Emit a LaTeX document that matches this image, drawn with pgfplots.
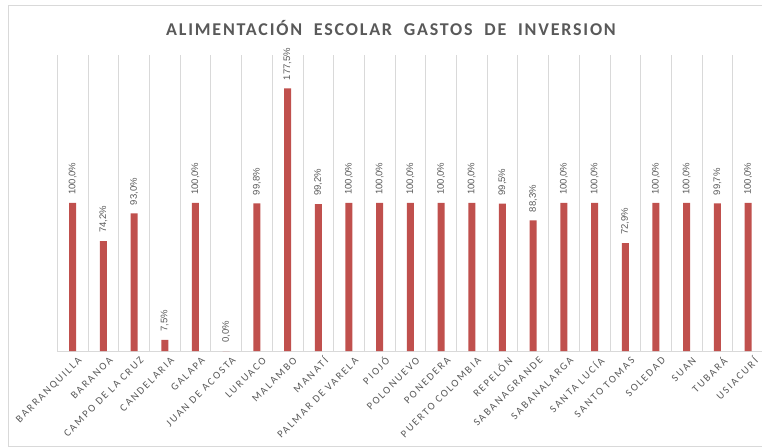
\documentclass[border=0pt]{standalone}
\usepackage{pgfplots}
\pgfplotsset{compat=1.18}
\usepackage{fontspec}
\setmainfont{Liberation Sans}
\newfontfamily\catfont[LetterSpace=18]{Carlito}
\newfontfamily\titlefont[LetterSpace=10]{Carlito}
\definecolor{barred}{HTML}{C0504D}
\definecolor{txtgray}{HTML}{595959}
\definecolor{gridgray}{HTML}{D9D9D9}
\begin{document}
\begin{tikzpicture}
\useasboundingbox (-57.3bp,-97bp) rectangle (704.7bp,351bp);
\draw[gridgray] (-49.3bp,-95bp) rectangle (712bp,346bp);
\begin{axis}[
  at={(0,0)}, anchor=south west,
  scale only axis,
  width=706.1bp, height=296bp,
  xmin=-0.5, xmax=22.5, ymin=0, ymax=200,
  axis y line=none,
  axis x line=bottom,
  axis line style={gridgray, -},
  x axis line style={-},
  xtick={0,...,22},
  major tick length=0pt,
  minor xtick={-0.5,0.5,...,22.5},
  minor tick length=0pt,
  xminorgrids=true,
  minor grid style={gridgray, line width=0.8pt},
  xticklabels={BARRANQUILLA,BARANOA,CAMPO DE LA CRUZ,CANDELARIA,GALAPA,JUAN DE ACOSTA,LURUACO,MALAMBO,MANATÍ,PALMAR DE VARELA,PIOJÓ,POLONUEVO,PONEDERA,PUERTO COLOMBIA,REPELÓN,SABANAGRANDE,SABANALARGA,SANTA LUCÍA,SANTO TOMAS,SOLEDAD,SUAN,TUBARÁ,USIACURÍ},
  xticklabel style={rotate=45, anchor=east, font=\catfont\fontsize{10.5bp}{12bp}\selectfont, text=txtgray, inner sep=0pt, yshift=-11bp, xshift=0bp},
  ybar, bar width=7bp,
  /pgf/number format/assume math mode=true,
  nodes near coords={\pgfmathprintnumber[fixed,fixed zerofill,precision=1,use comma]{\pgfplotspointmeta}\%},
  nodes near coords style={rotate=90, anchor=west, inner xsep=8bp, inner ysep=0pt, font=\fontsize{9.5bp}{10bp}\selectfont, text=txtgray},
  clip=false,
]
\addplot[fill=barred, draw=none] coordinates {
(0,100.0) (1,74.2) (2,93.0) (3,7.5) (4,100.0) (5,0.0) (6,99.8) (7,177.5)
(8,99.2) (9,100.0) (10,100.0) (11,100.0) (12,100.0) (13,100.0) (14,99.5)
(15,88.3) (16,100.0) (17,100.0) (18,72.9) (19,100.0) (20,100.0) (21,99.7) (22,100.0)
};
\end{axis}
\node[font=\titlefont\bfseries\fontsize{18bp}{20bp}\selectfont, text=txtgray] at (333.7bp,323bp) {ALIMENTACIÓN\ \ ESCOLAR\ \ GASTOS\ \ DE\ \ INVERSION};
\end{tikzpicture}
\end{document}
